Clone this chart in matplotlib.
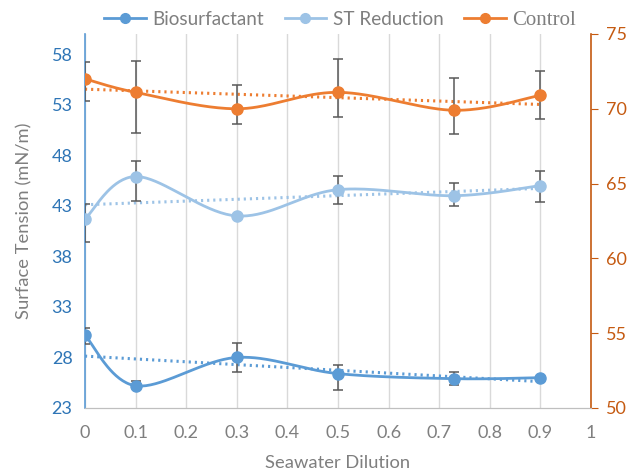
import numpy as np
import matplotlib
matplotlib.use("Agg")
import matplotlib.pyplot as plt
from matplotlib.lines import Line2D

plt.rcParams['font.family'] = ['Lato', 'DejaVu Sans']

# data
dilution = [0, 0.1, 0.3, 0.5, 0.73, 0.9]

bio = [30.2, 25.2, 28.0, 26.4, 25.9, 26.0]
bio_err_up = [0.7, 0.5, 1.4, 0.9, 0.7, 0.0]
bio_err_dn = [0.9, 0.0, 1.4, 1.65, 0.6, 0.0]

st_red = [41.7, 45.9, 42.0, 44.6, 44.0, 45.0]
st_err_up = [1.5, 1.5, 0.0, 1.35, 1.3, 1.4]
st_err_dn = [2.3, 2.4, 0.0, 1.4, 1.0, 1.6]

control = [72.0, 71.1, 70.0, 71.1, 69.9, 70.9]
ctl_err_up = [1.1, 2.1, 1.6, 2.2, 2.15, 1.6]
ctl_err_dn = [1.5, 2.7, 1.05, 1.65, 1.6, 1.6]

C_BIO = '#5B9BD5'
C_ST = '#9DC3E6'
C_CTL = '#ED7D31'
GRAY = '#7F7F7F'


def smooth(xs, ys, n=40):
    # excel style smoothed line (bezier, catmull-rom control points)
    p = np.column_stack([xs, ys]).astype(float)
    pts = np.vstack([p[0], p, p[-1]])
    out = []
    t = np.linspace(0, 1, n)[:, None]
    for i in range(1, len(pts) - 2):
        p0, p1, p2, p3 = pts[i - 1], pts[i], pts[i + 1], pts[i + 2]
        c1 = p1 + (p2 - p0) / 6
        c2 = p2 - (p3 - p1) / 6
        seg = ((1 - t) ** 3) * p1 + 3 * ((1 - t) ** 2) * t * c1 + 3 * (1 - t) * t ** 2 * c2 + t ** 3 * p2
        out.append(seg)
    seg = np.vstack(out)
    return seg[:, 0], seg[:, 1]


fig = plt.figure(figsize=(6.3, 4.72), dpi=100)
ax = fig.add_axes([0.1349, 0.1356, 0.8032, 0.7924])
ax2 = ax.twinx()

x = np.array(dilution)


def draw(a, ys, up, dn, col):
    sx, sy = smooth(x, ys)
    a.plot(sx, sy, color=col, lw=2.0, zorder=3)
    k, b = np.polyfit(x, ys, 1)
    a.plot([x[0], x[-1]], [b, k * x[-1] + b], color=col, lw=2.2,
           ls=(0, (0.7, 1.3)), zorder=2)
    a.errorbar(x, ys, yerr=[dn, up], fmt='none', ecolor='#595959',
               elinewidth=1.1, capsize=3.5, capthick=1.1, zorder=4)
    a.plot(x, ys, 'o', color=col, ms=8, zorder=5)


draw(ax, bio, bio_err_up, bio_err_dn, C_BIO)
draw(ax, st_red, st_err_up, st_err_dn, C_ST)
draw(ax2, control, ctl_err_up, ctl_err_dn, C_CTL)

ax.set_xlim(0, 1)
ax.set_ylim(23, 60)
ax.set_yticks(np.arange(23, 59, 5))
ax.set_xticks(np.arange(0, 1.01, 0.1))
ax.set_xticklabels(['0', '0.1', '0.2', '0.3', '0.4', '0.5', '0.6', '0.7', '0.8', '0.9', '1'])
ax2.set_ylim(50, 75)
ax2.set_yticks(np.arange(50, 76, 5))

ax.grid(axis='x', color='#D9D9D9', lw=1)
ax.set_axisbelow(True)

for a in (ax, ax2):
    a.spines['top'].set_visible(False)
    a.spines['bottom'].set_color('#BFBFBF')
ax.spines['right'].set_visible(False)
ax.spines['left'].set_color(C_BIO)
ax.spines['left'].set_linewidth(1.2)
ax2.spines['left'].set_visible(False)
ax2.spines['right'].set_color('#C55A11')
ax2.spines['right'].set_linewidth(1.2)

ax.tick_params(axis='x', length=0, colors=GRAY, labelsize=13, pad=12)
ax.tick_params(axis='y', length=0, labelcolor='#2E75B6', labelsize=13, pad=9)
ax2.tick_params(axis='y', length=5, color='#C55A11', labelcolor='#C55A11',
                labelsize=13, pad=6)

ax.set_xlabel('Seawater Dilution', color=GRAY, fontsize=13.2, labelpad=10)
ax.set_ylabel('Surface Tension (mN/m)', color=GRAY, fontsize=13.2, labelpad=14)

handles = [
    Line2D([], [], color=C_BIO, lw=2, marker='o', ms=7),
    Line2D([], [], color=C_ST, lw=2, marker='o', ms=7),
    Line2D([], [], color=C_CTL, lw=2, marker='o', ms=7),
]
leg = fig.legend(handles, ['Biosurfactant', 'ST Reduction', 'Control'],
                 loc='center', bbox_to_anchor=(0.54, 0.957), ncol=3,
                 frameon=False, fontsize=13.6, handlelength=2.2,
                 columnspacing=1.1, handletextpad=0.35)
for t in leg.get_texts():
    t.set_color(GRAY)
leg.get_texts()[2].set_family(['Liberation Serif', 'DejaVu Serif'])
leg.get_texts()[2].set_fontsize(15)

fig.savefig('out.png', dpi=100)
